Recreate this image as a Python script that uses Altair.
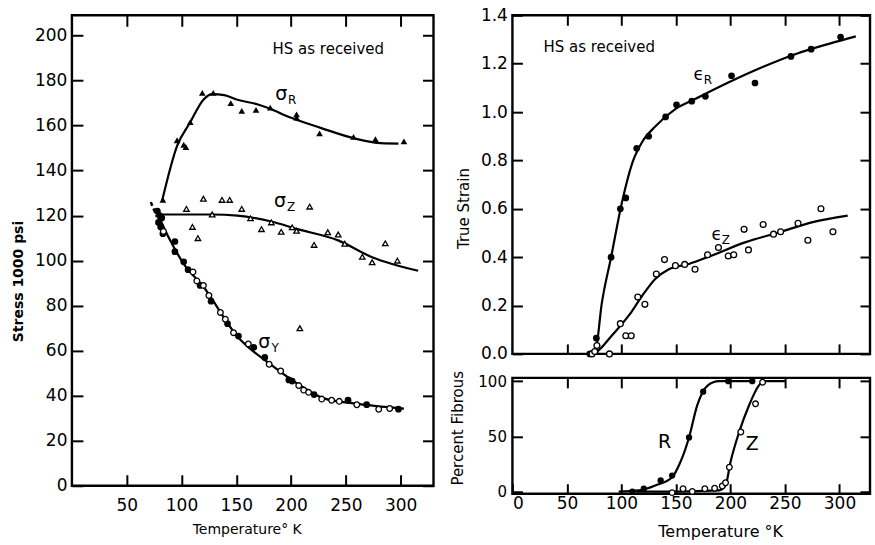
import altair as alt
import pandas as pd

FONT = "DejaVu Sans"

# ---------------- Left panel: stress vs temperature ----------------
sigR_T = [83, 96, 102, 104, 108, 119, 129, 145, 155, 168, 181, 205, 205, 226, 257, 277, 303]
sigR_S = [127, 153.5, 151.5, 150.5, 161.5, 174.5, 174.5, 170, 166.5, 167, 168, 165, 163.5, 156.5, 155, 154, 153]
sigR_fit_T = [82, 96, 108, 120, 128, 139, 151, 169, 181, 197, 227, 258, 282, 298]
sigR_fit_S = [126, 151, 161.5, 171.5, 174, 173.5, 171.5, 169.5, 167.5, 164, 159, 154.3, 152.2, 152]

sigZ_T = [104.5, 120, 137, 144, 155, 110, 115, 128, 163, 173, 182, 191, 201, 205, 217, 221, 233.5, 243, 249, 265, 274, 286, 297, 208]
sigZ_S = [123, 127.5, 127, 127, 123, 115, 110, 120.5, 118.8, 114, 117, 112.8, 114.8, 113.3, 124, 107, 112.6, 111.6, 107.5, 101.7, 99.3, 107.7, 100, 70]
sigZ_fit_T = [80, 102, 128, 151, 181, 206, 243, 274, 316]
sigZ_fit_S = [120.5, 120.5, 120.5, 120, 117.5, 114, 109, 101.5, 95.5]

sigY_fill_T = [78, 80, 82, 79, 81, 83, 94, 94, 102, 106, 117, 127, 142, 152, 166, 176, 198, 201, 221, 252, 269, 298]
sigY_fill_S = [122, 120, 119, 117, 115, 112, 108.5, 104, 99.5, 96, 89, 82, 72, 66.5, 61.5, 57, 47, 46.5, 40.5, 38, 36, 34]
sigY_open_T = [83.5, 110.5, 114, 120, 125, 135.5, 140, 147.5, 161, 180, 190.5, 207, 211.5, 216, 228, 237, 244, 260, 280, 290]
sigY_open_S = [113, 95, 91, 89, 84.5, 77, 74, 68, 63, 54, 51, 44.5, 42.5, 41.5, 38.5, 38, 37.5, 36, 34, 34.3]
sigY_fit_T = [78, 90, 102, 120, 151, 181, 212, 230, 257, 303]
sigY_fit_S = [121, 108.7, 98.6, 88.4, 66.3, 54, 43.4, 38.8, 36.6, 34.3]
junction_T = [72, 77.5]
junction_S = [126, 119.5]

left_sym = ["σ", "σ", "σ"]
left_sub = ["R", "Z", "Y"]
left_sym_T = [191, 190, 175.5]
left_sym_S = [174, 126.5, 64]
left_note = ["HS as received"]
left_note_T = [234]
left_note_S = [194]

left_xticks = [50, 100, 150, 200, 250, 300]
left_yticks = [0, 20, 40, 60, 80, 100, 120, 140, 160, 180, 200]

# ---------------- Right top: true strain ----------------
epsR_T = [71, 76, 77, 90.5, 99, 104, 114, 125, 140.5, 150.5, 164.5, 177, 201, 222.5, 255.5, 274, 301]
epsR_e = [0, 0.01, 0.065, 0.40, 0.60, 0.645, 0.85, 0.90, 0.98, 1.03, 1.045, 1.065, 1.15, 1.12, 1.23, 1.26, 1.31]
epsR_fit_T = [71, 76, 82, 90.5, 100.5, 110, 119, 131, 150, 168, 199, 229.5, 260, 291, 315]
epsR_fit_e = [0, 0.01, 0.21, 0.40, 0.627, 0.79, 0.876, 0.94, 1.014, 1.055, 1.124, 1.186, 1.24, 1.283, 1.313]

epsZ_T = [73, 75.5, 77.5, 89, 99, 104, 109, 115, 121.5, 132, 139.5, 149.5, 158, 167.5, 179, 189, 198, 203, 212.5, 216.5, 230, 239.5, 246, 262, 271, 283, 294]
epsZ_e = [0, 0.01, 0.035, 0, 0.125, 0.075, 0.075, 0.235, 0.205, 0.33, 0.39, 0.365, 0.37, 0.35, 0.41, 0.44, 0.405, 0.41, 0.515, 0.43, 0.535, 0.495, 0.505, 0.54, 0.47, 0.60, 0.505]
epsZ_fit_T = [73, 79, 91, 107, 119, 131, 143.5, 162, 183, 214, 245, 275.5, 307.5]
epsZ_fit_e = [0, 0.015, 0.075, 0.16, 0.24, 0.31, 0.35, 0.372, 0.407, 0.462, 0.503, 0.545, 0.572]

rt_sym = ["ϵ", "ϵ"]
rt_sub = ["R", "Z"]
rt_sym_T = [171, 187.5]
rt_sym_e = [1.155, 0.49]
rt_note = ["HS as received"]
rt_note_T = [28.5]
rt_note_e = [1.268]
rt_yticks = [0.0, 0.2, 0.4, 0.6, 0.8, 1.0, 1.2, 1.4]
right_xticks = [50, 100, 150, 200, 250, 300]

# ---------------- Right bottom: percent fibrous ----------------
R_T = [110, 120.5, 136, 146.5, 162, 175, 198, 220]
R_p = [0, 2.5, 10, 14.5, 49, 90.5, 100, 100]
R_fit_T = [97.5, 116, 131, 146.5, 154, 162, 169.5, 179, 189.5, 220]
R_fit_p = [0, 1, 5.5, 13, 26.5, 49, 78, 96, 100, 100]
Z_T = [146.5, 156.5, 165, 176.5, 185.5, 192.5, 195.5, 199, 209.5, 223, 229.5]
Z_p = [-1, 2.5, 0, 2.5, 3, 5, 8, 22, 54, 79.5, 99]
Z_fit_T = [113, 150, 189.5, 195.5, 200, 208, 217, 226, 231, 250]
Z_fit_p = [0, 0, 1, 5.5, 26.5, 54, 78, 96, 100, 100]
rb_lab = ["R", "Z"]
rb_lab_T = [139.5, 220]
rb_lab_p = [45, 43.5]
rb_xlabels = [0, 50, 100, 150, 200, 250, 300]
rb_yticks = [0, 50, 100]

# ---------------- helpers ----------------
BLACK = "#000000"
LW, LH = 362, 471
RW, RTH, RBH = 358, 339, 116
TW = 2.0  # tick stroke width

COMMON = dict(grid=False, domain=False, labelFont=FONT, labelColor=BLACK,
              tickColor=BLACK, tickWidth=TW, tickOpacity=1, titleFont=FONT, titleColor=BLACK)


def tick_axis(orient, values, L):
    # tick-only mirror axis, pulled inside the frame
    return alt.Axis(orient=orient, values=values, labels=False, ticks=True, tickSize=L,
                    offset=-L, title=None, **COMMON)


def enc(field, scale, axis, ch):
    if ch == "x":
        return alt.X(field + ":Q", scale=scale, axis=axis)
    return alt.Y(field + ":Q", scale=scale, axis=axis)


def line(T, V, xs, ys, xa=None, ya=None, dash=None, sw=2.2):
    d = pd.DataFrame({"t": T, "v": V})
    kw = dict(color=BLACK, strokeWidth=sw, interpolate="monotone")
    if dash:
        kw["strokeDash"] = dash
    return alt.Chart(d).mark_line(**kw).encode(x=enc("t", xs, xa, "x"), y=enc("v", ys, ya, "y"))


def pts(T, V, xs, ys, shape, filled, size):
    d = pd.DataFrame({"t": T, "v": V})
    if filled:
        m = alt.Chart(d).mark_point(shape=shape, filled=True, color=BLACK, size=size, opacity=1)
    else:
        m = alt.Chart(d).mark_point(shape=shape, filled=True, fill="white", stroke=BLACK,
                                    strokeWidth=1.3, size=size, opacity=1)
    return m.encode(x=enc("t", xs, None, "x"), y=enc("v", ys, None, "y"))


def texts(labels, T, V, xs, ys, size, dx=0, dy=0, align="center"):
    d = pd.DataFrame({"t": T, "v": V, "s": labels})
    return alt.Chart(d).mark_text(font=FONT, fontSize=size, color=BLACK, dx=dx, dy=dy, align=align).encode(
        x=enc("t", xs, None, "x"), y=enc("v", ys, None, "y"), text="s:N")


# ---------------- left chart ----------------
L1 = 11
lx_scale = alt.Scale(domain=[0, 330], nice=False, zero=False)
ly_scale = alt.Scale(domain=[0, 209], nice=False, zero=False)
lx_axis = alt.Axis(orient="bottom", values=left_xticks, ticks=True, tickSize=L1, offset=-L1,
                   labelPadding=12, labelFontSize=17,
                   title="Temperature° K", titleFontSize=14, titleFontWeight="normal",
                   titleX=175, titleY=44 + L1, titleBaseline="middle", titleAlign="center", **COMMON)
ly_axis = alt.Axis(orient="left", values=left_yticks, ticks=True, tickSize=L1, offset=-L1,
                   labelPadding=5, labelFontSize=17,
                   title="Stress 1000 psi", titleFontSize=14, titleFontWeight="bold",
                   titleX=-53 - L1, titleY=266, titleBaseline="middle", titleAlign="center",
                   titleAngle=270, **COMMON)

left = alt.layer(
    line(sigR_fit_T, sigR_fit_S, lx_scale, ly_scale, lx_axis, ly_axis),
    line(sigZ_fit_T, sigZ_fit_S, lx_scale, ly_scale, tick_axis("top", left_xticks, L1),
         tick_axis("right", left_yticks, L1)),
    line(sigY_fit_T, sigY_fit_S, lx_scale, ly_scale),
    line(junction_T, junction_S, lx_scale, ly_scale, dash=[4, 3], sw=2.5),
    pts(sigR_T, sigR_S, lx_scale, ly_scale, "triangle-up", True, 45),
    pts(sigZ_T, sigZ_S, lx_scale, ly_scale, "triangle-up", False, 30),
    pts(sigY_fill_T, sigY_fill_S, lx_scale, ly_scale, "circle", True, 45),
    pts(sigY_open_T, sigY_open_S, lx_scale, ly_scale, "circle", False, 32),
    texts(left_sym, left_sym_T, left_sym_S, lx_scale, ly_scale, 19),
    texts(left_sub, left_sym_T, left_sym_S, lx_scale, ly_scale, 12, dx=11, dy=6),
    texts(left_note, left_note_T, left_note_S, lx_scale, ly_scale, 15),
).resolve_axis(x="independent", y="independent").properties(width=LW, height=LH)

# ---------------- right top chart ----------------
L2 = 10
rx_scale = alt.Scale(domain=[0, 328], nice=False, zero=False)
rty_scale = alt.Scale(domain=[0, 1.4], nice=False, zero=False)
rty_axis = alt.Axis(orient="left", values=rt_yticks, format=".1f", ticks=True, tickSize=L2, offset=-L2,
                    labelPadding=5, labelFontSize=17,
                    title="True Strain", titleFontSize=15, titleFontWeight="normal",
                    titleX=-49 - L2, titleY=193, titleBaseline="middle", titleAlign="center",
                    titleAngle=270, **COMMON)

rtop = alt.layer(
    line(epsR_fit_T, epsR_fit_e, rx_scale, rty_scale, tick_axis("bottom", right_xticks, L2), rty_axis),
    line(epsZ_fit_T, epsZ_fit_e, rx_scale, rty_scale, tick_axis("top", right_xticks, L2),
         tick_axis("right", rt_yticks, L2)),
    pts(epsR_T, epsR_e, rx_scale, rty_scale, "circle", True, 45),
    pts(epsZ_T, epsZ_e, rx_scale, rty_scale, "circle", False, 34),
    texts(rt_sym, rt_sym_T, rt_sym_e, rx_scale, rty_scale, 17),
    texts(rt_sub, rt_sym_T, rt_sym_e, rx_scale, rty_scale, 12, dx=9, dy=5),
    texts(rt_note, rt_note_T, rt_note_e, rx_scale, rty_scale, 15, align="left"),
).resolve_axis(x="independent", y="independent").properties(width=RW, height=RTH)

# ---------------- right bottom chart ----------------
rby_scale = alt.Scale(domain=[-2, 103], nice=False, zero=False)
rbx_axis = alt.Axis(orient="bottom", values=rb_xlabels, ticks=True, tickSize=L2, offset=-L2,
                    labelPadding=2, labelFontSize=17,
                    title="Temperature °K", titleFontSize=16, titleFontWeight="normal",
                    titleX=208, titleY=38 + L2, titleBaseline="middle", titleAlign="center", **COMMON)
rby_axis = alt.Axis(orient="left", values=rb_yticks, ticks=True, tickSize=L2, offset=-L2,
                    labelPadding=6, labelFontSize=15,
                    title="Percent Fibrous", titleFontSize=15, titleFontWeight="normal",
                    titleX=-55 - L2, titleY=50, titleBaseline="middle", titleAlign="center",
                    titleAngle=270, **COMMON)

rbot = alt.layer(
    line(R_fit_T, R_fit_p, rx_scale, rby_scale, rbx_axis, rby_axis),
    line(Z_fit_T, Z_fit_p, rx_scale, rby_scale, tick_axis("top", right_xticks, L2),
         tick_axis("right", rb_yticks, L2)),
    pts(R_T, R_p, rx_scale, rby_scale, "circle", True, 40),
    pts(Z_T, Z_p, rx_scale, rby_scale, "circle", False, 32),
    texts(rb_lab, rb_lab_T, rb_lab_p, rx_scale, rby_scale, 19),
).resolve_axis(x="independent", y="independent").properties(width=RW, height=RBH)

chart = (
    alt.hconcat(left, alt.vconcat(rtop, rbot, spacing=24, bounds="flush"), spacing=79, bounds="flush")
    .properties(padding={"left": 10, "top": 4, "right": 2, "bottom": 2}, background="white")
    .configure_view(stroke=BLACK, strokeWidth=2.4)
)

chart.save("out.html", embed_options={"renderer": "svg", "actions": False})
